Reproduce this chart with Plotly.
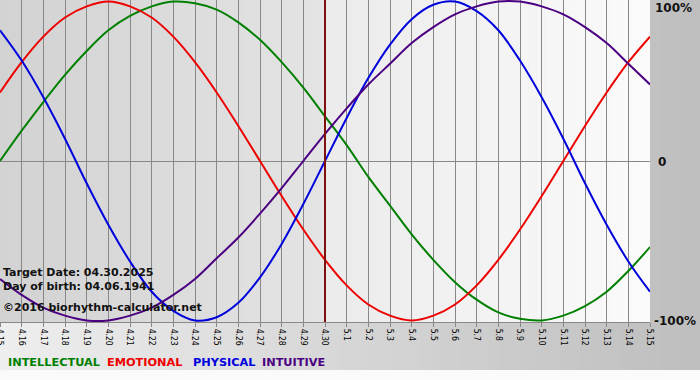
import plotly.graph_objects as go

# ---- data ----
day_labels = ["4.15", "4.16", "4.17", "4.18", "4.19", "4.20", "4.21", "4.22", "4.23", "4.24",
              "4.25", "4.26", "4.27", "4.28", "4.29", "4.30", "5.1", "5.2", "5.3", "5.4",
              "5.5", "5.6", "5.7", "5.8", "5.9", "5.10", "5.11", "5.12", "5.13", "5.14", "5.15"]

intellectual = [0.00, 0.19, 0.37, 0.54, 0.69, 0.82, 0.91, 0.97, 1.00, 0.99, 0.95, 0.87, 0.76, 0.62, 0.46,
                0.28, 0.10, -0.10, -0.28, -0.46, -0.62, -0.76, -0.87, -0.95, -0.99, -1.00, -0.97, -0.91,
                -0.82, -0.69, -0.54]
emotional = [0.43, 0.62, 0.78, 0.90, 0.97, 1.00, 0.97, 0.90, 0.78, 0.62, 0.43, 0.22, 0.00, -0.22, -0.43,
             -0.62, -0.78, -0.90, -0.97, -1.00, -0.97, -0.90, -0.78, -0.62, -0.43, -0.22, 0.00, 0.22,
             0.43, 0.62, 0.78]
physical = [0.82, 0.63, 0.40, 0.14, -0.14, -0.40, -0.63, -0.82, -0.94, -1.00, -0.98, -0.89, -0.73, -0.52,
            -0.27, 0.00, 0.27, 0.52, 0.73, 0.89, 0.98, 1.00, 0.94, 0.82, 0.63, 0.40, 0.14, -0.14, -0.40,
            -0.63, -0.82]
intuitive = [-0.74, -0.84, -0.92, -0.97, -1.00, -1.00, -0.97, -0.92, -0.84, -0.74, -0.61, -0.48, -0.33,
             -0.17, 0.00, 0.17, 0.33, 0.48, 0.61, 0.74, 0.84, 0.92, 0.97, 1.00, 1.00, 0.97, 0.92, 0.84,
             0.74, 0.61, 0.48]

series_names = ["INTELLECTUAL", "EMOTIONAL", "PHYSICAL", "INTUITIVE"]
y_tick_labels = ["100%", "0", "-100%"]
target_label = "4.30"
info_lines = ["Target Date: 04.30.2025", "Day of birth: 04.06.1941", "©2016 biorhythm-calculator.net"]

# ---- styling ----
W, H = 700, 380
PLOT_W, PLOT_H = 650, 322
colors = ["#008000", "#ee0000", "#0000dd", "#4b0082"]
FONT = "DejaVu Sans"


def px_x(p):
    return p / PLOT_W


def px_y(p):
    return (PLOT_H - p) / PLOT_H


def grey(v):
    v = int(round(v))
    return f"rgb({v},{v},{v})"


fig = go.Figure()
for name, vals, col in zip(series_names, [intellectual, emotional, physical, intuitive], colors):
    fig.add_trace(go.Scatter(x=day_labels, y=vals, mode="lines", name=name,
                             line=dict(color=col, width=2, shape="spline", smoothing=1.0),
                             hoverinfo="skip"))

shapes = []
# figure background gradient (grey band from top to y=370px)
n = 70
for i in range(n):
    x0 = i * W / n
    x1 = (i + 1) * W / n + 0.5
    v = 238 - (238 - 190) * (i + 0.5) / n
    shapes.append(dict(type="rect", xref="paper", yref="paper", x0=px_x(x0), x1=px_x(x1),
                       y0=px_y(370), y1=px_y(0), fillcolor=grey(v), line=dict(width=0), layer="below"))
# plot area gradients: past (darker) and future (lighter)
tidx = day_labels.index(target_label)
split = PLOT_W * tidx / (len(day_labels) - 1)
m = 40
for i in range(m):
    a0 = split * i / m
    a1 = split * (i + 1) / m + 0.5
    v = 210 - (210 - 228) * (i + 0.5) / m
    shapes.append(dict(type="rect", xref="paper", yref="paper", x0=px_x(a0), x1=px_x(a1),
                       y0=0, y1=1, fillcolor=grey(v), line=dict(width=0), layer="below"))
    b0 = split + (PLOT_W - split) * i / m
    b1 = split + (PLOT_W - split) * (i + 1) / m + 0.5
    v2 = 235 + (251 - 235) * (i + 0.5) / m
    shapes.append(dict(type="rect", xref="paper", yref="paper", x0=px_x(b0), x1=px_x(min(b1, PLOT_W)),
                       y0=0, y1=1, fillcolor=grey(v2), line=dict(width=0), layer="below"))
# target date line
shapes.append(dict(type="line", xref="x", yref="paper", x0=tidx, x1=tidx, y0=0, y1=1,
                   line=dict(color="#801010", width=2), layer="above"))

annotations = []
# right-side percentage labels
for txt, yv, anchor, xs, ys in zip(y_tick_labels, [1, 0, -1], ["top", "middle", "middle"],
                                   [3, 6, 2], [3, -1, -1]):
    annotations.append(dict(text=f"<b>{txt}</b>", xref="paper", yref="y", x=1, y=yv,
                            xanchor="left", yanchor=anchor, xshift=xs, yshift=ys,
                            showarrow=False, font=dict(family=FONT, size=12, color="#111111")))
# info text
for txt, ypx in zip(info_lines, [272, 286, 307]):
    annotations.append(dict(text=f"<b>{txt}</b>", xref="paper", yref="paper", x=0, y=px_y(ypx),
                            xanchor="left", yanchor="middle", xshift=1, showarrow=False,
                            font=dict(family=FONT, size=11, color="#111111")))
# legend
for name, col, xpx in zip(series_names, colors, [7, 106, 192, 261]):
    annotations.append(dict(text=f"<b>{name}</b>", xref="paper", yref="paper", x=px_x(xpx),
                            y=px_y(362), xanchor="left", yanchor="middle", xshift=-1, showarrow=False,
                            font=dict(family=FONT, size=11.3, color=col)))

fig.update_layout(
    width=W, height=H,
    margin=dict(l=0, r=W - PLOT_W, t=0, b=H - PLOT_H, autoexpand=False),
    paper_bgcolor="#fafafa",
    plot_bgcolor="rgba(0,0,0,0)",
    showlegend=False,
    shapes=shapes,
    annotations=annotations,
    xaxis=dict(type="category", range=[0, len(day_labels) - 1], tickmode="array",
               tickvals=day_labels, ticktext=day_labels, tickangle=90, automargin=False,
               showgrid=True, gridcolor="#888888", gridwidth=1,
               ticks="outside", ticklen=4, tickcolor="#888888",
               showline=True, linecolor="#888888", linewidth=1,
               tickfont=dict(family="DejaVu Sans Condensed, DejaVu Sans", size=8.5, color="#000000"),
               fixedrange=True),
    yaxis=dict(range=[-1.01, 1.01], showgrid=False, showticklabels=False, automargin=False,
               zeroline=True, zerolinecolor="#888888", zerolinewidth=1, fixedrange=True),
)

fig.write_html("out.html", config={"displayModeBar": False},
               post_script="document.body.style.margin='0px';document.body.style.padding='0px';"
                           "document.body.style.overflow='hidden';")
